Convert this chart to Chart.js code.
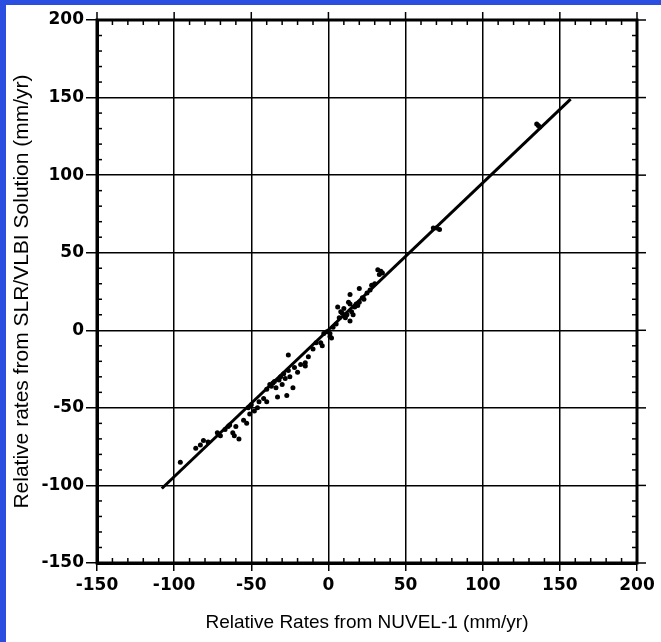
<!DOCTYPE html>
<html><head><meta charset="utf-8">
<script src="https://cdn.jsdelivr.net/npm/chart.js@4"></script>
<style>
html,body{margin:0;padding:0;background:#fff;}
#wrap{position:relative;width:661px;height:642px;}
canvas{position:absolute;left:0;top:0;}
.bl{position:absolute;left:0;top:0;width:6px;height:642px;background:#2a4fe0;}
.bt{position:absolute;left:0;top:0;width:661px;height:5px;background:#2a4fe0;}
</style></head>
<body><div id="wrap"><canvas id="c" width="661" height="642"></canvas><div class="bl"></div><div class="bt"></div></div>
<script>
const nuvelRates = [135,137,136,68,72,70,
 -96,-86,-83,-81,-78,-72,-70,-67,-65,-64,-62,-61,-58,-60,
 -55,-53,-51,-52,-50,-48,-46,-45,
 -42,-40,-40,-38,-37,-36,-35,-34,-33,-32,-31,-30,-29,-28,-27,-26,-26,-25,-23,-22,-20,-18,-15,-15,-13,-10,
 -8,-5,-4,-3,-1,1,2,1,3,
 5,6,7,8,9,10,11,12,13,14,14,14,15,16,17,18,19,20,20,22,23,25,27,28,30,32,33,35,34];
const slrVlbiRates = [133,131,132,66,65,66,
 -85,-76,-74,-71,-72,-66,-68,-64,-62,-61,-66,-68,-70,-62,
 -58,-60,-54,-50,-48,-52,-50,-46,
 -44,-46,-38,-35,-36,-34,-33,-37,-43,-32,-30,-35,-28,-31,-42,-16,-26,-30,-37,-24,-27,-22,-21,-23,-17,-12,
 -8,-8,-10,-2,-1,-2,-5,-4,2,
 4,15,8,12,11,14,8,10,18,23,17,6,12,10,15,17,16,18,27,21,20,24,26,29,30,39,36,37,38];
const fitLineX = [-108, 157];
const fitLineY = [-102, 149];
const xTitle = 'Relative Rates from NUVEL-1 (mm/yr)';
const yTitle = 'Relative rates from SLR/VLBI Solution (mm/yr)';
const axisMin = -150, axisMax = 200, majorStep = 50, minorStep = 10;

const framePlugin = {
  id:'frame',
  afterDraw(chart){
    const {ctx, chartArea:a, scales:{x,y}} = chart;
    ctx.save();
    ctx.strokeStyle='#000';
    ctx.lineWidth=1.5;
    for(let v=axisMin; v<=axisMax; v+=majorStep){
      const px=x.getPixelForValue(v), py=y.getPixelForValue(v);
      ctx.beginPath(); ctx.moveTo(px,a.top-8); ctx.lineTo(px,a.top); ctx.stroke();
      ctx.beginPath(); ctx.moveTo(a.right,py); ctx.lineTo(a.right+9,py); ctx.stroke();
    }
    for(let v=axisMin; v<=axisMax; v+=minorStep){
      if((v-axisMin)%majorStep===0) continue;
      const px=x.getPixelForValue(v), py=y.getPixelForValue(v);
      ctx.beginPath(); ctx.moveTo(px,a.bottom); ctx.lineTo(px,a.bottom-5); ctx.stroke();
      ctx.beginPath(); ctx.moveTo(px,a.top); ctx.lineTo(px,a.top+5); ctx.stroke();
      ctx.beginPath(); ctx.moveTo(a.left,py); ctx.lineTo(a.left+5,py); ctx.stroke();
      ctx.beginPath(); ctx.moveTo(a.right,py); ctx.lineTo(a.right-5,py); ctx.stroke();
    }
    ctx.lineWidth=3;
    ctx.strokeRect(a.left,a.top,a.right-a.left,a.bottom-a.top);
    ctx.restore();
  }
};

const axisCommon = (title, isY) => ({
  type:'linear', min:axisMin, max:axisMax,
  ticks:{stepSize:majorStep, color:'#000', font:{family:'DejaVu Sans', size:17, weight:'bold'}, padding:isY?2:4},
  grid:{color:'#000', lineWidth:1.5, tickLength:isY?11:8, tickColor:'#000', tickWidth:1.5},
  border:{display:true, color:'#000', width:3},
  title:{display:true, text:title, color:'#000', font:{family:'Liberation Sans', size:isY?21:19}, padding:{top:isY?10:4, bottom:isY?0:8}},
  afterFit(s){ if(isY) s.width=97; else s.height=79; }
});

new Chart(document.getElementById('c'), {
  type:'scatter',
  data:{datasets:[
    {label:'rates', data:nuvelRates.map((v,i)=>({x:v,y:slrVlbiRates[i]})), backgroundColor:'#000', borderColor:'#000', pointRadius:2.5, pointBorderWidth:0},
    {label:'fit', data:fitLineX.map((v,i)=>({x:v,y:fitLineY[i]})), showLine:true, borderColor:'#000', borderWidth:3, pointRadius:0}
  ]},
  options:{
    responsive:false, animation:false, devicePixelRatio:1,
    layout:{padding:{top:20,right:24,left:0,bottom:0}},
    plugins:{legend:{display:false}, tooltip:{enabled:false}},
    scales:{x:axisCommon(xTitle,false), y:axisCommon(yTitle,true)}
  },
  plugins:[framePlugin]
});
</script></body></html>
